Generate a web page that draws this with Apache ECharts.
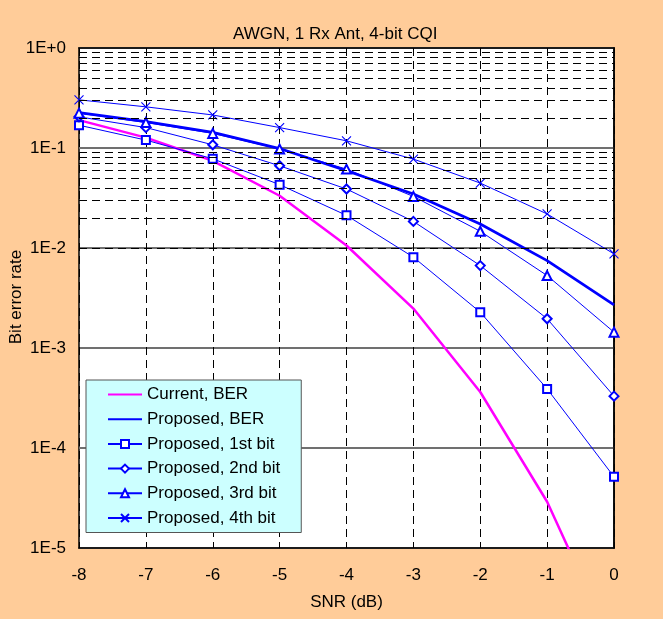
<!DOCTYPE html>
<html>
<head>
<meta charset="utf-8">
<script src="https://cdn.jsdelivr.net/npm/echarts@6/dist/echarts.min.js"></script>
<style>
html,body{margin:0;padding:0;background:#FFCC99;}
#chart{width:663px;height:619px;}
</style>
</head>
<body>
<div id="chart"></div>
<script>
// ---- data ----
var snr = [-8, -7, -6, -5, -4, -3, -2, -1, 0];
var currentBER  = [0.19, 0.127, 0.0745, 0.0333, 0.0106, 0.00248, 0.000363, 0.000029, 0.000001];
var proposedBER = [0.226, 0.184, 0.143, 0.0988, 0.0592, 0.0347, 0.0174, 0.00748, 0.0027];
var bit1 = [0.169, 0.12, 0.078, 0.043, 0.0212, 0.0081, 0.00228, 0.00039, 0.0000515];
var bit2 = [0.205, 0.16, 0.1076, 0.0664, 0.0389, 0.01846, 0.00667, 0.00196, 0.00033];
var bit3 = [0.223, 0.18, 0.14, 0.0975, 0.0615, 0.0328, 0.0147, 0.0053, 0.00144];
var bit4 = [0.303, 0.258, 0.214, 0.16, 0.118, 0.0775, 0.0446, 0.0219, 0.00873];
var seriesNames = ['Current, BER', 'Proposed, BER', 'Proposed, 1st bit', 'Proposed, 2nd bit', 'Proposed, 3rd bit', 'Proposed, 4th bit'];
var yTickExponents = [0, -1, -2, -3, -4, -5];
var minorMultipliers = [2, 3, 4, 5, 6, 7, 8, 9];

function pairs(vals) { return snr.map(function (x, i) { return [x, vals[i]]; }); }

var minorLines = [];
yTickExponents.slice(1).forEach(function (e) {
  minorMultipliers.forEach(function (m) { minorLines.push({ yAxis: m * Math.pow(10, e) }); });
});

var FONT = 'Liberation Sans';
var FS = 17;
var BLUE = '#0000FF';
var crossPath = 'path://M0,0L10,10M10,0L0,10';

function bitSeries(name, vals, symbol, size) {
  return {
    name: name, type: 'line', data: pairs(vals), z: 3,
    symbol: symbol, symbolSize: size, showSymbol: true,
    lineStyle: { color: BLUE, width: 1 },
    itemStyle: { color: BLUE, borderColor: BLUE, borderWidth: 1.1 },
    emphasis: { disabled: true }, animation: false
  };
}

var legendData = seriesNames.map(function (n, i) {
  if (i < 2) {
    return { name: n, itemStyle: { color: 'rgba(0,0,0,0)', borderWidth: 0, opacity: 0 } };
  }
  return { name: n };
});

var chart = echarts.init(document.getElementById('chart'), null, { renderer: 'canvas' });
chart.setOption({
  backgroundColor: '#FFCC99',
  animation: false,
  title: {
    text: 'AWGN, 1 Rx Ant, 4-bit CQI', left: 228, top: 21,
    textStyle: { fontFamily: FONT, fontSize: FS, fontWeight: 'normal', color: '#000' }
  },
  grid: {
    left: 79, right: 49, top: 48, bottom: 71, outerBoundsMode: 'none', containLabel: false,
    show: true, backgroundColor: '#fff', borderColor: '#000', borderWidth: 1.5
  },
  legend: {
    data: legendData, orient: 'vertical', left: 86, top: 380,
    backgroundColor: '#CCFFFF', borderColor: '#555', borderWidth: 1, borderRadius: 0,
    padding: [6, 21, 6, 21], itemWidth: 34, itemHeight: 10, itemGap: 7.7,
    textStyle: { fontFamily: FONT, fontSize: FS, color: '#000' },
    selectedMode: false
  },
  xAxis: [{
    type: 'value', min: -8, max: 0, interval: 1,
    name: 'SNR (dB)', nameLocation: 'middle', nameGap: 46, nameMoveOverlap: false,
    nameTextStyle: { fontFamily: FONT, fontSize: FS, color: '#000' },
    axisLine: { show: true, lineStyle: { color: '#000', width: 1.5 } },
    axisTick: { show: true, inside: true, length: 5, lineStyle: { color: '#000' } },
    axisLabel: { fontFamily: FONT, fontSize: FS, color: '#000', margin: 19 },
    splitLine: { show: true, lineStyle: { color: '#000', width: 1, type: [8, 5] } }
  }, {
    type: 'value', min: -8, max: 0, interval: 1, position: 'top',
    axisLine: { show: true, lineStyle: { color: '#000', width: 1.5 } },
    axisTick: { show: true, inside: true, length: 5, lineStyle: { color: '#000' } },
    axisLabel: { show: false }, splitLine: { show: false }
  }],
  yAxis: {
    type: 'log', logBase: 10, min: 1e-5, max: 1,
    name: 'Bit error rate', nameLocation: 'middle', nameGap: 54, nameRotate: 90, nameMoveOverlap: false,
    nameTextStyle: { fontFamily: FONT, fontSize: FS, color: '#000', padding: [0, 0, 0, 2] },
    axisLine: { show: true, lineStyle: { color: '#000', width: 1.5 } },
    axisTick: { show: false },
    axisLabel: {
      fontFamily: FONT, fontSize: FS, color: '#000', margin: 13,
      formatter: function (v) {
        var e = Math.round(Math.log10(v));
        return '1E' + (e >= 0 ? '+' : '') + e;
      }
    },
    splitLine: { show: true, lineStyle: { color: '#707070', width: 1.8 } }
  },
  series: [
    {
      name: 'minor-grid', type: 'line', data: [], z: 1, silent: true,
      markLine: {
        silent: true, symbol: 'none', animation: false,
        label: { show: false },
        lineStyle: { color: '#000', width: 1, type: [8, 5] },
        emphasis: { disabled: true },
        data: minorLines
      }
    },
    {
      name: 'Current, BER', type: 'line', data: pairs(currentBER), z: 3,
      symbol: 'none', lineStyle: { color: '#FF00FF', width: 2.5 },
      itemStyle: { color: '#FF00FF' }, clip: true
    },
    {
      name: 'Proposed, BER', type: 'line', data: pairs(proposedBER), z: 3,
      symbol: 'none', lineStyle: { color: BLUE, width: 2.8 },
      itemStyle: { color: BLUE }
    },
    bitSeries('Proposed, 1st bit', bit1, 'emptyRect', 8),
    bitSeries('Proposed, 2nd bit', bit2, 'emptyDiamond', 9),
    bitSeries('Proposed, 3rd bit', bit3, 'emptyTriangle', 9),
    bitSeries('Proposed, 4th bit', bit4, crossPath, 9)
  ]
});
</script>
</body>
</html>
